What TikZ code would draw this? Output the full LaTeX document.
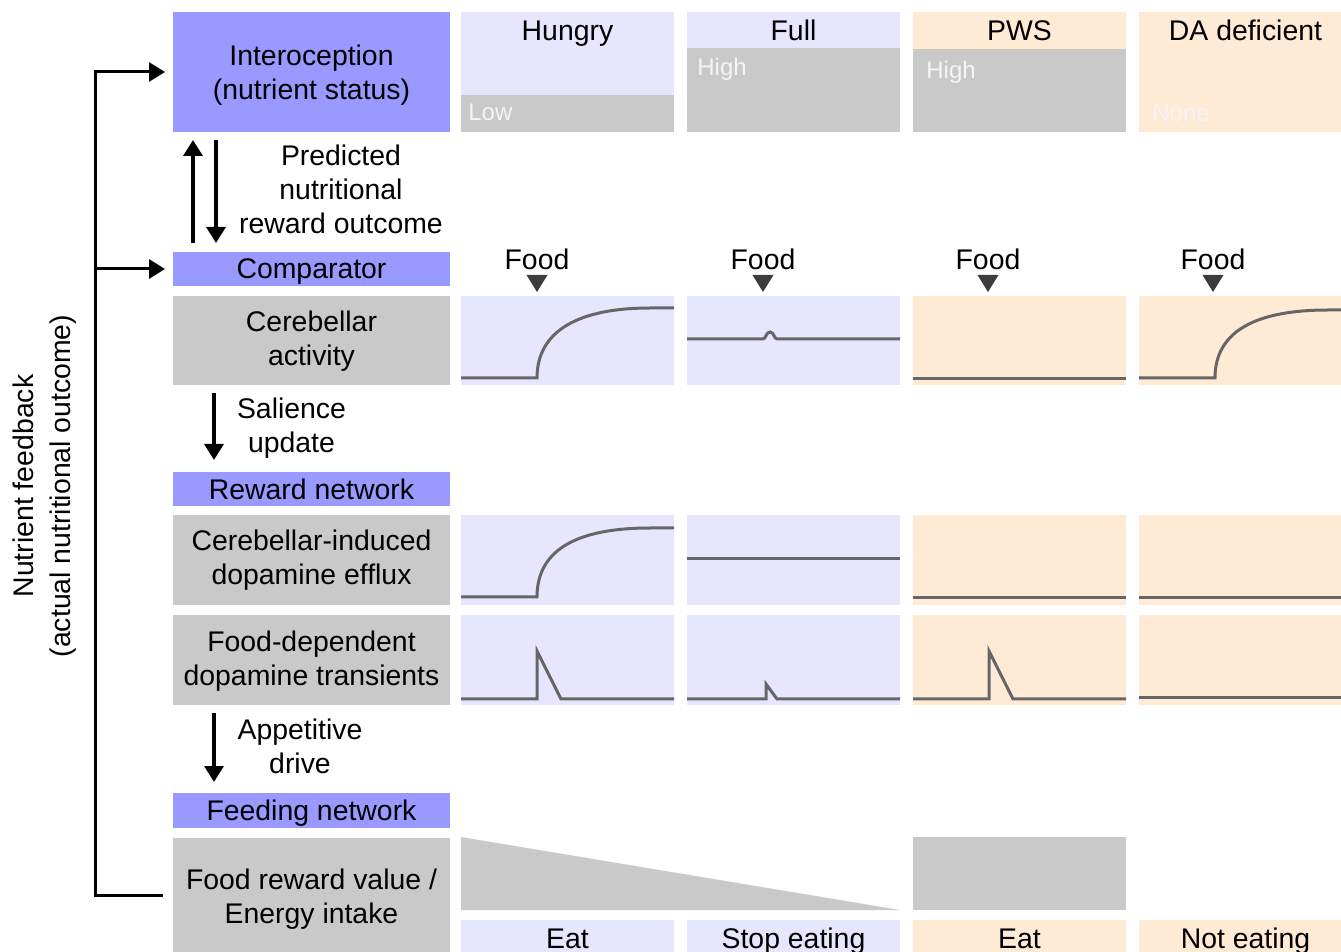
\documentclass[tikz,border=0pt]{standalone}
\usepackage{fontspec}
\setmainfont{Liberation Sans}
\definecolor{netBlue}{HTML}{9999FF}
\definecolor{normLilac}{HTML}{E6E6FE}
\definecolor{pwsPeach}{HTML}{FFEAD6}
\definecolor{levelGray}{HTML}{C9C9C9}
\definecolor{traceGray}{HTML}{666666}
\definecolor{markGray}{HTML}{3C3C3C}
\usetikzlibrary{
	arrows.meta,
	positioning,
	calc
}
\newcommand{\cuerpo}{\fontsize{14.2}{17}\selectfont}
\tikzset{
	circuito/.style={
		fill=netBlue,
		minimum width=138.5pt,
		minimum height=17pt,
		inner sep=0pt,
		outer sep=0pt,
		align=center,
		font=\cuerpo
	},
	medida/.style={
		fill=levelGray,
		minimum width=138.5pt,
		minimum height=45pt,
		inner sep=0pt,
		outer sep=0pt,
		align=center,
		font=\cuerpo
	},
	sinbajo/.style={
		text depth=0pt
	},
	panel/.style={
		minimum width=106.5pt,
		minimum height=45pt,
		inner sep=0pt,
		outer sep=0pt
	},
	resultado/.style={
		panel,
		minimum height=20pt,
		text height=8pt,
		text depth=0pt,
		font=\cuerpo
	},
	titulo/.style={
		anchor=base,
		inner sep=0pt,
		font=\cuerpo
	},
	nivel/.style={
		anchor=base west,
		inner sep=0pt,
		text=white!96!black,
		font=\fontsize{12}{14}\selectfont
	},
	rotulo/.style={
		align=center,
		inner sep=0pt,
		font=\cuerpo
	},
	traza/.style={
		draw=traceGray,
		line width=1.5pt,
		line join=miter
	},
	flecha/.style={
		-{Triangle[length=8pt,width=9.5pt]},
		line width=1.6pt
	}
}

\begin{document}
\begin{tikzpicture}[x=0.5pt,y=-0.5pt]
	\useasboundingbox (0,0) rectangle (1341,952);
	% left column
	\node[circuito, minimum height=60pt] (intero) at (311.5,72) {\rule{0pt}{13.2pt}Interoception\\(nutrient status)};
	\node[circuito, sinbajo, below=60pt of intero] (comp) {Comparator};
	\node[medida, minimum height=44.5pt, below=5pt of comp] (cereb) {\rule{0pt}{11.4pt}Cerebellar\\activity};
	\node[circuito, below=43.5pt of cereb] (reward) {Reward network};
	\node[medida, below=4.5pt of reward] (efflux) {Cerebellar-induced\\dopamine efflux};
	\node[medida, below=5pt of efflux] (trans) {\rule{0pt}{11.4pt}Food-dependent\\dopamine transients};
	\node[circuito, sinbajo, minimum height=17.5pt, below=44pt of trans] (feeding) {Feeding network};
	\node[medida, minimum height=57pt, below=5pt of feeding] (intake) {\rule{0pt}{14.9pt}Food reward value /\\Energy intake};
	% condition columns
	\foreach \col/\cx/\tono/\nombre/\salida in {hun/567.5/normLilac/Hungry/Eat, ful/793.5/normLilac/Full/Stop eating, pws/1019.5/pwsPeach/PWS/Eat, dad/1245.5/pwsPeach/DA deficient/Not eating}{
		\node[panel, fill=\tono, minimum height=60pt] (\col-head) at (\cx,72) {};
		\node[titulo] (\col-tit) at (\cx,41) {\nombre};
		\node[panel, fill=\tono, minimum height=44.5pt] (\col-cer) at (\cx,340.5) {};
		\node[panel, fill=\tono] (\col-efl) at (\cx,560) {};
		\node[panel, fill=\tono] (\col-tra) at (\cx,660) {};
		\node[resultado, fill=\tono] (\col-out) at (\cx,940) {\salida};
	}
	% nutrient levels
	\fill[levelGray] (hun-head.south west) rectangle ($(hun-head.south east)+(0,18.5pt)$);
	\fill[levelGray] (ful-head.south west) rectangle ($(ful-head.south east)+(0,42pt)$);
	\fill[levelGray] (pws-head.south west) rectangle ($(pws-head.south east)+(0,41.5pt)$);
	\node[nivel] (hun-lvl) at (468,121) {Low};
	\node[nivel] (ful-lvl) at (697,76) {High};
	\node[nivel] (pws-lvl) at (926,79) {High};
	\node[nivel] (dad-lvl) at (1152,122) {None};
	% food markers
	\foreach \fx [count=\i] in {537,763,988,1213}{
		\node[titulo] (food\i) at (\fx,270) {Food};
		\fill[markGray] (\fx-10.5,275) -- (\fx+10.5,275) -- (\fx,292) -- cycle;
	}
	% traces
	\draw[traza] (461,378) -- (537,378) .. controls (537,330) and (580,308) .. (650,308) -- (674,308);
	\draw[traza] (687,339) -- (763,339) .. controls (766,339) and (766,332) .. (770,332) .. controls (774,332) and (774,339) .. (777,339) -- (900,339);
	\draw[traza] (913,379) -- (1126,379);
	\draw[traza] (1139,378) -- (1215,378) .. controls (1215,330) and (1258,310) .. (1328,310) -- (1345,310);
	\draw[traza] (461,597) -- (537,597) .. controls (537,548) and (580,528) .. (650,528) -- (674,528);
	\draw[traza] (687,559) -- (900,559);
	\draw[traza] (913,598) -- (1126,598);
	\draw[traza] (1139,598) -- (1345,598);
	\draw[traza] (461,699) -- (537,699) -- (537,651) -- (561,699) -- (674,699);
	\draw[traza] (687,699) -- (766,699) -- (766,684) -- (777,699) -- (900,699);
	\draw[traza] (913,699) -- (989,699) -- (989,651) -- (1013,699) -- (1126,699);
	\draw[traza] (1139,698) -- (1345,698);
	% intake
	\fill[levelGray] (461,837) -- (900,910) -- (461,910) -- cycle;
	\fill[levelGray] (913,837) rectangle (1126,910);
	% arrows and labels
	\coordinate (ejeA) at (193,0);
	\coordinate (ejeB) at (216,0);
	\coordinate (ejeC) at (214,0);
	\coordinate (fb) at (95,0);
	\draw[flecha] ($(comp.north -| ejeA)+(0,4.5pt)$) -- ($(intero.south -| ejeA)+(0,-4pt)$);
	\draw[flecha] ($(intero.south -| ejeB)+(0,-4pt)$) -- ($(comp.north -| ejeB)+(0,4.5pt)$);
	\draw[flecha] ($(cereb.south -| ejeC)+(0,-4pt)$) -- ($(reward.north -| ejeC)+(0,6pt)$);
	\draw[flecha] ($(trans.south -| ejeC)+(0,-4pt)$) -- ($(feeding.north -| ejeC)+(0,5.5pt)$);
	\node[rotulo] (predlbl) at (341,189) {Predicted\\nutritional\\reward outcome};
	\node[rotulo] (sallbl) at (291.5,428) {Salience\\update};
	\node[rotulo] (applbl) at (300,746) {Appetitive\\drive};
	% feedback loop
	\draw[flecha, line width=1.5pt] ($(intake.west)+(-5pt,0)$) -- (intake.west -| fb) -- (intero.west -| fb) -- ($(intero.west)+(-4pt,0)$);
	\draw[flecha, line width=1.5pt] (comp.west -| fb) -- ($(comp.west)+(-4pt,0)$);
	\node[rotulo, rotate=90, font=\fontsize{14.2}{18.5}\selectfont] (feedlbl) at (45,486) {Nutrient feedback\\(actual nutritional outcome)};
\end{tikzpicture}
\end{document}
